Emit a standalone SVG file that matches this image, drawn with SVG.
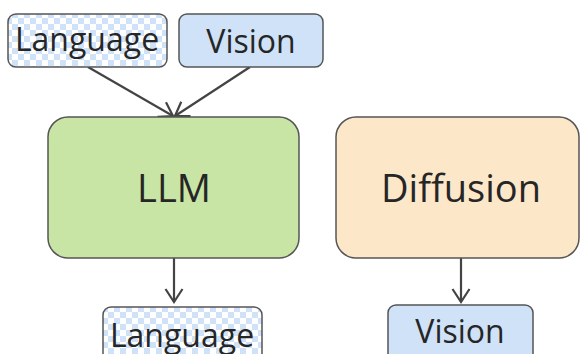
<svg xmlns="http://www.w3.org/2000/svg" width="581" height="354" viewBox="0 0 581 354">
<style>
.box{stroke:#555;stroke-width:1.5}
.t{font-family:"Open Sans","Noto Sans",sans-serif;fill:#262626;text-anchor:middle}
.s{font-size:32px}
.b{font-size:38px}
.c{fill:none;stroke:#444;stroke-width:2.2}
</style>
<defs>
<pattern id="chk" width="12" height="12" patternUnits="userSpaceOnUse">
<rect width="12" height="12" fill="#ffffff"/>
<rect width="6" height="6" fill="#cfe2f8"/>
<rect x="6" y="6" width="6" height="6" fill="#cfe2f8"/>
</pattern>
<marker id="ah" markerWidth="18" markerHeight="20" refX="15" refY="10" orient="auto" markerUnits="userSpaceOnUse">
<path d="M2,1.5 L15,10 L2,18.5" fill="none" stroke="#444" stroke-width="2.2"/>
</marker>
</defs>
<g id="connectors">
<line class="c" x1="88" y1="67" x2="173" y2="116" marker-end="url(#ah)"/>
<line class="c" x1="250" y1="67" x2="175" y2="116" marker-end="url(#ah)"/>
<line class="c" x1="174" y1="258" x2="174" y2="302" marker-end="url(#ah)"/>
<line class="c" x1="461" y1="258" x2="461" y2="302" marker-end="url(#ah)"/>
</g>
<g id="lang-in">
<rect class="box" x="8" y="14" width="159" height="53" rx="8" fill="url(#chk)"/>
<text class="t s" x="87" y="51">Language</text>
</g>
<g id="vision-in">
<rect class="box" x="179" y="14" width="144" height="53" rx="8" fill="#cfe2f8"/>
<text class="t s" x="251" y="53">Vision</text>
</g>
<g id="llm">
<rect class="box" x="48" y="117" width="251" height="141" rx="20" fill="#c9e5a5"/>
<text class="t b" x="174" y="202">LLM</text>
</g>
<g id="diffusion">
<rect class="box" x="336" y="117" width="243" height="141" rx="20" fill="#fde7c9"/>
<text class="t b" x="461" y="202">Diffusion</text>
</g>
<g id="lang-out">
<rect class="box" x="103" y="307" width="159" height="60" rx="8" fill="url(#chk)"/>
<text class="t s" x="182" y="347">Language</text>
</g>
<g id="vision-out">
<rect class="box" x="388" y="305" width="145" height="60" rx="8" fill="#cfe2f8"/>
<text class="t s" x="460" y="343">Vision</text>
</g>
</svg>
